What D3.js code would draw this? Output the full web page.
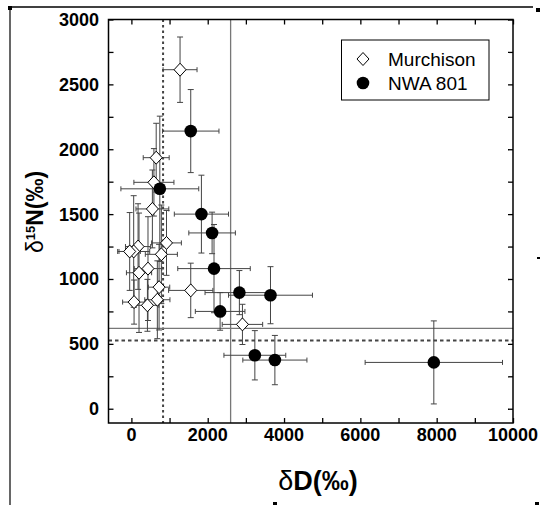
<!DOCTYPE html>
<html>
<head>
<meta charset="utf-8">
<script src="https://cdn.jsdelivr.net/npm/d3@7"></script>
<style>
  body { margin: 0; background: #fff; }
  svg { display: block; font-family: "Liberation Sans", Arial, Helvetica, sans-serif; }
</style>
</head>
<body>
<svg id="chart"></svg>
<script>
// Murchison: dD, error, d15N, error (permil)
const murchD    = [1275, 650, 590, 550, 920, 175, 60, -45, 785, 435, 200, 725, 1555, 680, 70, 420, 2910];
const murchDErr = [445, 340, 525, 430, 390, 330, 420, 280, 420, 360, 330, 280, 580, 330, 300, 300, 530];
const murchN    = [2613, 1935, 1745, 1540, 1278, 1250, 1212, 1212, 1190, 1080, 1048, 937, 912, 840, 822, 797, 650];
const murchNErr = [252, 265, 260, 300, 250, 330, 430, 300, 380, 400, 460, 330, 210, 300, 170, 200, 155];

// NWA 801
const nwaD    = [1555, 745, 1835, 2115, 2165, 2830, 3645, 2325, 3235, 3760, 7925];
const nwaDErr = [740, 1020, 710, 610, 950, 900, 1100, 650, 810, 840, 1800];
const nwaN    = [2140, 1695, 1500, 1355, 1080, 895, 875, 750, 412, 375, 357];
const nwaNErr = [320, 560, 300, 160, 340, 170, 220, 145, 190, 190, 320];

// reference lines
const refD = [830, 2600];   // dotted, solid
const refN = [525, 620];    // dotted, solid

const xTicks = [0, 2000, 4000, 6000, 8000, 10000];
const yTicks = [0, 500, 1000, 1500, 2000, 2500, 3000];

const width = 541, height = 505;
const mLeft = 108.5, mRight = 513, mTop = 19.5, mBottom = 423;

const svg = d3.select('#chart')
  .attr('width', width)
  .attr('height', height);

svg.append('rect').attr('width', width).attr('height', height).attr('fill', '#fff');

// page frame marks
svg.append('line').attr('x1', 10).attr('y1', 7).attr('x2', 533).attr('y2', 7)
  .attr('stroke', '#000').attr('stroke-width', 1.5);
svg.append('line').attr('x1', 10).attr('y1', 7).attr('x2', 10).attr('y2', 505)
  .attr('stroke', '#000').attr('stroke-width', 1.2);
[[8, 6, 4, 4], [536, 8, 4, 4], [537, 257, 3, 2], [273, 502, 4, 3], [535, 502, 4, 3]].forEach(r => {
  svg.append('rect').attr('x', r[0]).attr('y', r[1]).attr('width', r[2]).attr('height', r[3]).attr('fill', '#000');
});

const x = d3.scaleLinear().domain([-600, 10000]).range([mLeft, mRight]);
const y = d3.scaleLinear().domain([-110, 3000]).range([mBottom, mTop]);

// axes (ticks inward, on all four sides)
const xMinor = d3.range(0, 10001, 1000);
const yMinor = d3.range(0, 3001, 250);

svg.append('g')
  .attr('transform', `translate(0, ${mBottom})`)
  .call(d3.axisTop(x).tickValues(xMinor).tickSize(5).tickFormat(''))
  .call(g => g.select('.domain').remove());
svg.append('g')
  .attr('transform', `translate(0, ${mTop})`)
  .call(d3.axisBottom(x).tickValues(xMinor).tickSize(5).tickFormat(''))
  .call(g => g.select('.domain').remove());
svg.append('g')
  .attr('transform', `translate(${mLeft}, 0)`)
  .call(d3.axisRight(y).tickValues(yMinor).tickSize(5).tickFormat(''))
  .call(g => g.select('.domain').remove());
svg.append('g')
  .attr('transform', `translate(${mRight}, 0)`)
  .call(d3.axisLeft(y).tickValues(yMinor).tickSize(5).tickFormat(''))
  .call(g => g.select('.domain').remove());
svg.selectAll('.tick line').attr('stroke', '#000').attr('stroke-width', 1.3);

// tick labels
svg.append('g').selectAll('text')
  .data(xTicks).enter().append('text')
  .attr('x', d => x(d)).attr('y', 441)
  .attr('text-anchor', 'middle')
  .attr('font-size', 18).attr('font-weight', 'bold')
  .text(d => d);
svg.append('g').selectAll('text')
  .data(yTicks).enter().append('text')
  .attr('x', 99).attr('y', d => y(d) + 6.5)
  .attr('text-anchor', 'end')
  .attr('font-size', 18).attr('font-weight', 'bold')
  .text(d => d);

// reference lines
svg.append('line')
  .attr('x1', x(refD[0])).attr('x2', x(refD[0])).attr('y1', mTop).attr('y2', mBottom)
  .attr('stroke', '#444').attr('stroke-width', 2).attr('stroke-dasharray', '2.5,3');
svg.append('line')
  .attr('x1', x(refD[1])).attr('x2', x(refD[1])).attr('y1', mTop).attr('y2', mBottom)
  .attr('stroke', '#777').attr('stroke-width', 1.3);
svg.append('line')
  .attr('x1', mLeft).attr('x2', mRight).attr('y1', y(refN[0])).attr('y2', y(refN[0]))
  .attr('stroke', '#444').attr('stroke-width', 2).attr('stroke-dasharray', '3.5,3');
svg.append('line')
  .attr('x1', mLeft).attr('x2', mRight).attr('y1', y(refN[1])).attr('y2', y(refN[1]))
  .attr('stroke', '#777').attr('stroke-width', 1.3);

// error bars
function errorBars(D, DE, N, NE) {
  const g = svg.append('g').attr('stroke', '#444').attr('stroke-width', 1).attr('fill', 'none');
  D.forEach((d, i) => {
    const cx = x(d), cy = y(N[i]);
    const x0 = x(d - DE[i]), x1 = x(d + DE[i]);
    const y0 = y(N[i] + NE[i]), y1 = y(N[i] - NE[i]);
    g.append('path').attr('d',
      `M${x0},${cy}H${x1}M${x0},${cy - 2.5}V${cy + 2.5}M${x1},${cy - 2.5}V${cy + 2.5}` +
      `M${cx},${y0}V${y1}M${cx - 3},${y0}H${cx + 3}M${cx - 3},${y1}H${cx + 3}`);
  });
}
errorBars(murchD, murchDErr, murchN, murchNErr);
errorBars(nwaD, nwaDErr, nwaN, nwaNErr);

// markers
const diamond = 'M0,-6.5L6,0L0,6.5L-6,0Z';
svg.append('g').selectAll('path')
  .data(murchD).enter().append('path')
  .attr('d', diamond)
  .attr('transform', (d, i) => `translate(${x(d)},${y(murchN[i])})`)
  .attr('fill', '#fff').attr('stroke', '#000').attr('stroke-width', 1);
svg.append('g').selectAll('circle')
  .data(nwaD).enter().append('circle')
  .attr('cx', d => x(d)).attr('cy', (d, i) => y(nwaN[i]))
  .attr('r', 6.3).attr('fill', '#000');

// frame
svg.append('rect')
  .attr('x', mLeft).attr('y', mTop).attr('width', mRight - mLeft).attr('height', mBottom - mTop)
  .attr('fill', 'none').attr('stroke', '#000').attr('stroke-width', 1.5);

// legend
const lg = svg.append('g');
lg.append('rect').attr('x', 341.5).attr('y', 40).attr('width', 147.5).attr('height', 60)
  .attr('fill', '#fff').attr('stroke', '#000').attr('stroke-width', 1);
lg.append('path').attr('d', diamond).attr('transform', 'translate(363,59)')
  .attr('fill', '#fff').attr('stroke', '#000');
lg.append('circle').attr('cx', 363).attr('cy', 83).attr('r', 6.3).attr('fill', '#000');
lg.append('text').attr('x', 388).attr('y', 65.5).attr('font-size', 19).text('Murchison');
lg.append('text').attr('x', 388).attr('y', 90).attr('font-size', 19).text('NWA 801');

// axis titles
const xt = svg.append('text')
  .attr('x', 318).attr('y', 490)
  .attr('text-anchor', 'middle')
  .attr('font-size', 27).attr('font-weight', 'bold');
xt.append('tspan').attr('font-weight', 'normal').text('δ');
xt.append('tspan').text('D(‰)');

const yt = svg.append('text')
  .attr('transform', 'translate(43, 212) rotate(-90)')
  .attr('text-anchor', 'middle')
  .attr('font-size', 23).attr('font-weight', 'bold');
yt.append('tspan').attr('font-weight', 'normal').text('δ');
yt.append('tspan').attr('font-size', 13).attr('dy', -8).text('15');
yt.append('tspan').attr('dy', 8).text('N(‰)');
</script>
</body>
</html>
